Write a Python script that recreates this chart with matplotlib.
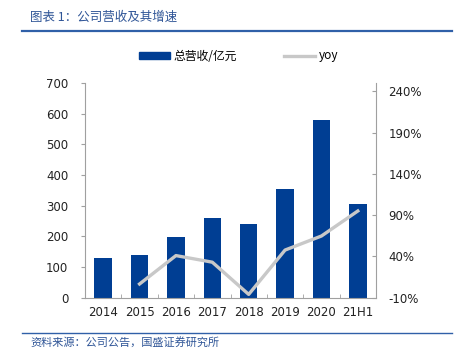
import matplotlib
matplotlib.use("Agg")
import matplotlib.pyplot as plt
from matplotlib.lines import Line2D
from matplotlib.patches import Patch

plt.rcParams['font.family'] = ['DejaVu Sans', 'Noto Sans CJK SC']

categories = ['2014', '2015', '2016', '2017', '2018', '2019', '2020', '21H1']
revenue = [130, 140, 197, 259, 240, 354, 579, 305]
yoy = [None, 6.6, 41, 33, -6, 47.7, 64.7, 95]
left_ticks = [0, 100, 200, 300, 400, 500, 600, 700]
right_ticks = [-10, 40, 90, 140, 190, 240]

bar_color = '#003E93'
line_color = '#C8C8C8'
axis_color = '#A0A0A0'
cjk = ['Noto Sans CJK SC', 'DejaVu Sans']

fig = plt.figure(figsize=(4.55, 3.5), dpi=100)
ax = fig.add_axes([85/455, 1-297.7/350, (376-85)/455, (297.7-83)/350])
x = list(range(len(categories)))
ax.bar(x, revenue, width=0.48, color=bar_color, zorder=2)
ax.set_xlim(-0.5, len(categories)-0.5)
ax.set_ylim(0, 700)
ax.set_yticks(left_ticks)
ax.set_xticks(x)
ax.set_xticklabels(categories)
ax.set_xticks([i+0.5 for i in range(len(categories)-1)], minor=True)
ax.tick_params(axis='x', which='major', length=0, pad=6, labelsize=8.5, colors='#222222')
ax.tick_params(axis='x', which='minor', length=3, direction='in', color=axis_color)
ax.tick_params(axis='y', length=3, direction='out', color=axis_color, labelsize=8.5, labelcolor='#222222', pad=9)
for s in ['top', 'right']:
    ax.spines[s].set_visible(False)
for s in ['left', 'bottom']:
    ax.spines[s].set_color(axis_color)
    ax.spines[s].set_linewidth(0.8)

ax2 = ax.twinx()
xs = [i for i, v in enumerate(yoy) if v is not None]
ys = [v for v in yoy if v is not None]
ax2.plot(xs, ys, color=line_color, lw=2.4, zorder=3)
ax2.set_ylim(-10, 250)
ax2.set_yticks(right_ticks)
ax2.set_yticklabels([f'{t}%' for t in right_ticks])
ax2.tick_params(axis='y', length=3, direction='in', color=axis_color, labelsize=8.5, labelcolor='#222222', pad=9)
for s in ['top', 'left', 'bottom']:
    ax2.spines[s].set_visible(False)
ax2.spines['right'].set_color(axis_color)
ax2.spines['right'].set_linewidth(0.8)

# legend
handles = [Patch(facecolor=bar_color, edgecolor=bar_color),
           Line2D([0], [0], color=line_color, lw=2.4)]
leg = fig.legend(handles, ['总营收/亿元', 'yoy'], loc='center', bbox_to_anchor=(0.525, 1-56/350),
                 ncol=2, frameon=False, handlelength=2.6, handleheight=0.6,
                 columnspacing=4.0, handletextpad=0.35, prop={'family': cjk, 'size': 8.5})

# title and source
fig.text(30/455, 1-17/350, '图表 1：公司营收及其增速', color='#2F5597', fontsize=9,
         family=cjk, style='italic', va='center', ha='left')
fig.add_artist(Line2D([22/455, 452/455], [1-31/350, 1-31/350], color='#3060A8', lw=1.6))
fig.add_artist(Line2D([22/455, 452/455], [1-333/350, 1-333/350], color='#3060A8', lw=1.0))
fig.text(30/455, 1-342/350, '资料来源：公司公告，国盛证券研究所', color='#2F5597', fontsize=8,
         family=cjk, style='italic', va='center', ha='left')

fig.savefig('out.png', dpi=100)
